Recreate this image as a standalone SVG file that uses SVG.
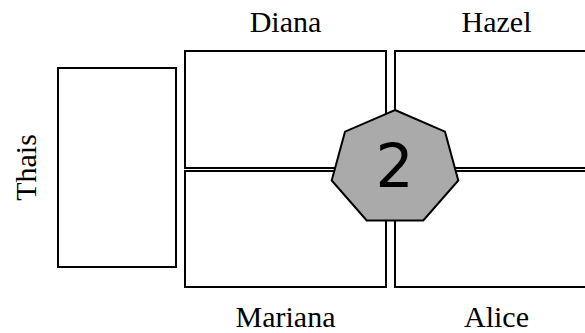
<svg xmlns="http://www.w3.org/2000/svg" width="585" height="333" viewBox="0 0 585 333">
<style>
.box{fill:#fff;stroke:#000;stroke-width:2}
.lbl{font-family:"Liberation Serif","Times New Roman",serif;font-size:30px;fill:#000;text-anchor:middle}
.hept{fill:#aaaaaa;stroke:#000;stroke-width:2;stroke-linejoin:miter}
.num{font-family:"DejaVu Sans",sans-serif;font-size:60px;fill:#000;text-anchor:middle}
</style>
<rect width="585" height="333" fill="#fff"/>
<g id="thais">
<rect class="box" x="58" y="68" width="118" height="199"/>
<text class="lbl" transform="translate(36,167.5) rotate(-90)">Thais</text>
</g>
<g id="diana">
<rect class="box" x="185" y="51" width="201" height="117"/>
<text class="lbl" x="285.5" y="32">Diana</text>
</g>
<g id="hazel">
<rect class="box" x="395" y="51" width="201" height="117"/>
<text class="lbl" x="496.5" y="32">Hazel</text>
</g>
<g id="mariana">
<rect class="box" x="185" y="171" width="201" height="116"/>
<text class="lbl" x="285.5" y="327">Mariana</text>
</g>
<g id="alice">
<rect class="box" x="395" y="171" width="201" height="116"/>
<text class="lbl" x="496.5" y="327">Alice</text>
</g>
<g id="connectors"></g>
<g id="n2">
<polygon class="hept" points="395,110 445,131.7 458.3,180.5 423.3,220.5 366.7,220.5 331.7,180.5 345,131.7"/>
<text class="num" x="394.5" y="187">2</text>
</g>
</svg>
